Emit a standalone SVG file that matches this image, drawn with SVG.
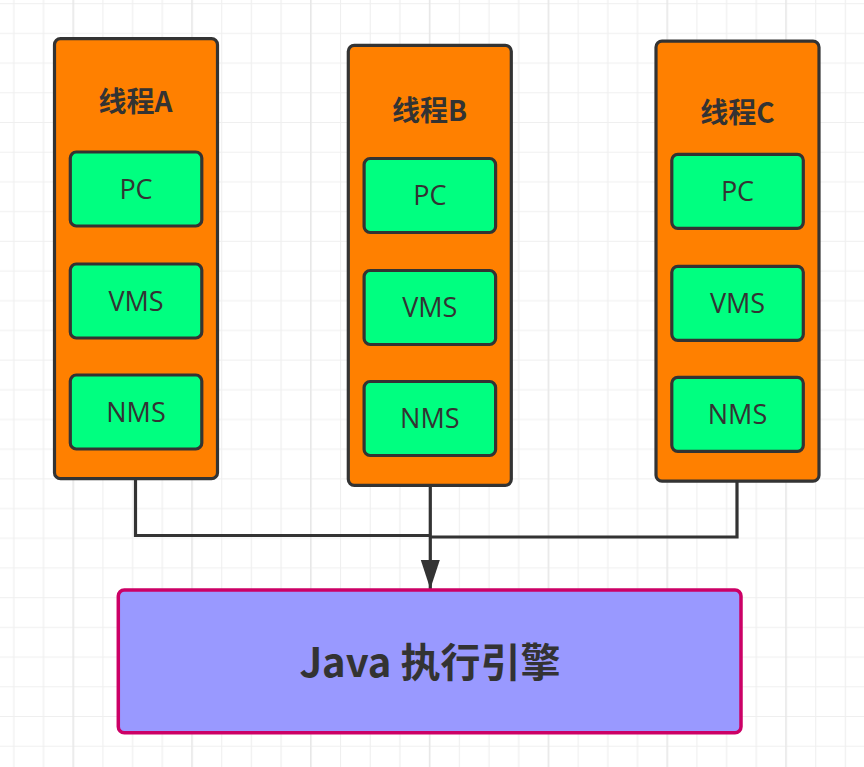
<svg xmlns="http://www.w3.org/2000/svg" width="864" height="767" viewBox="0 0 864 767">
<defs>
<pattern id="grid" patternUnits="userSpaceOnUse" x="-16.4" y="3.2" width="118.8" height="118.8">
<path d="M0.5 0V118.8M30.2 0V118.8M59.9 0V118.8M89.6 0V118.8" stroke="#efefef" stroke-width="1.2" fill="none"/>
<path d="M0 0.5H118.8M0 30.2H118.8M0 59.9H118.8M0 89.6H118.8" stroke="#efefef" stroke-width="1.2" fill="none"/>
<path d="M89.6 0V118.8" stroke="#e6e6e6" stroke-width="1.4" fill="none"/>
</pattern>
<marker id="arrow" markerUnits="userSpaceOnUse" markerWidth="30" markerHeight="20" refX="29" refY="9.5" orient="auto" viewBox="0 0 30 19">
<path d="M0 0L29 9.5L0 19Z" fill="#333333"/>
</marker>
</defs>
<style>
.thread{fill:#ff8000;stroke:#333333;stroke-width:3.2}
.item{fill:#00ff80;stroke:#333333;stroke-width:3.2}
.title{font-family:"Noto Sans CJK SC","Noto Sans",sans-serif;font-weight:bold;font-size:28px;fill:#333333;text-anchor:middle}
.label{font-family:"Open Sans","Noto Sans",sans-serif;font-size:27px;fill:#333333;text-anchor:middle}
.engine{font-family:"Noto Sans CJK SC","Noto Sans",sans-serif;font-weight:bold;font-size:40px;fill:#333333;text-anchor:middle}
.conn{fill:none;stroke:#333333;stroke-width:3.2}
</style>
<rect width="864" height="767" fill="#ffffff"/>
<rect width="864" height="767" fill="url(#grid)"/>
<g id="connectors">
<path class="conn" d="M135.5 478.5V535.5H430.3"/>
<path class="conn" d="M737 481V537H430.3"/>
<path class="conn" d="M430.3 485V589" stroke-width="3.8" marker-end="url(#arrow)"/>
</g>
<g id="threadA">
<rect class="thread" x="54.5" y="38.7" width="163" height="440" rx="6"/>
<text class="title" x="135.5" y="111.5">线程A</text>
<g id="threadA-pc"><rect class="item" x="70.3" y="152" width="131.5" height="74" rx="6"/><text class="label" x="136" y="198.5">PC</text></g>
<g id="threadA-vms"><rect class="item" x="70.3" y="264" width="131.5" height="74" rx="6"/><text class="label" x="136" y="310.5">VMS</text></g>
<g id="threadA-nms"><rect class="item" x="70.3" y="375" width="131.5" height="74" rx="6"/><text class="label" x="136" y="421.5">NMS</text></g>
</g>
<g id="threadB">
<rect class="thread" x="348.3" y="45.3" width="163" height="440" rx="6"/>
<text class="title" x="429.5" y="120.5">线程B</text>
<g id="threadB-pc"><rect class="item" x="364.1" y="158.5" width="131.5" height="74" rx="6"/><text class="label" x="429.8" y="205">PC</text></g>
<g id="threadB-vms"><rect class="item" x="364.1" y="270.5" width="131.5" height="74" rx="6"/><text class="label" x="429.8" y="317">VMS</text></g>
<g id="threadB-nms"><rect class="item" x="364.1" y="381.5" width="131.5" height="74" rx="6"/><text class="label" x="429.8" y="428">NMS</text></g>
</g>
<g id="threadC">
<rect class="thread" x="656" y="41.2" width="163" height="440" rx="6"/>
<text class="title" x="737.5" y="123.3">线程C</text>
<g id="threadC-pc"><rect class="item" x="671.8" y="154.3" width="131.5" height="74" rx="6"/><text class="label" x="737.5" y="200.8">PC</text></g>
<g id="threadC-vms"><rect class="item" x="671.8" y="266.3" width="131.5" height="74" rx="6"/><text class="label" x="737.5" y="312.8">VMS</text></g>
<g id="threadC-nms"><rect class="item" x="671.8" y="377.3" width="131.5" height="74" rx="6"/><text class="label" x="737.5" y="423.8">NMS</text></g>
</g>
<g id="engine">
<rect x="118.3" y="590" width="622.7" height="142.7" rx="6" fill="#9999ff" stroke="#cc0066" stroke-width="3.5"/>
<text class="engine" x="430" y="677">Java 执行引擎</text>
</g>
</svg>
